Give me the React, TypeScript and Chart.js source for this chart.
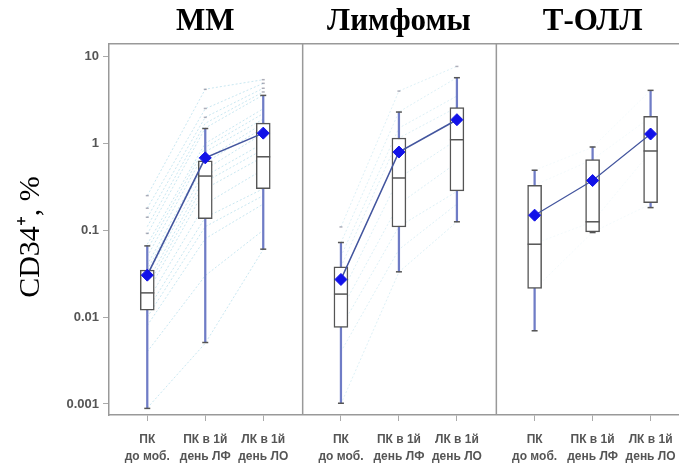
import React, { useEffect, useRef } from "react";
import { Chart, registerables } from "chart.js";

Chart.register(...registerables);

// ---------- text ----------
const CATEGORY_LABELS = [
  ["ПК", "до моб."],
  ["ПК в 1й", "день ЛФ"],
  ["ЛК в 1й", "день ЛО"],
];
const PANEL_TITLES = ["ММ", "Лимфомы", "Т-ОЛЛ"];
const Y_TICKS = [0.001, 0.01, 0.1, 1, 10];
const Y_TICK_LABELS = ["0.001", "0.01", "0.1", "1", "10"];
const Y_TITLE = "CD34⁺, %";

// ---------- ММ ----------
const mmMin = [0.00089, 0.0051, 0.0605];
const mmQ1 = [0.012, 0.136, 0.3];
const mmMed = [0.019, 0.42, 0.7];
const mmQ3 = [0.0347, 0.63, 1.71];
const mmMax = [0.066, 1.48, 3.56];
const mmMean = [0.0304, 0.68, 1.31];
const mmOutliers = [
  [0.092, 0.141, 0.179, 0.25],
  [1.99, 2.52, 4.18],
  [3.9, 4.3, 4.9, 5.4],
];
const mmPatients = [
  [0.25, 4.2, 5.4],
  [0.18, 2.5, 4.9],
  [0.14, 2.0, 4.3],
  [0.11, 1.7, 3.9],
  [0.09, 1.5, 3.6],
  [0.069, 1.0, 2.5],
  [0.06, 0.9, 2.2],
  [0.05, 0.8, 1.9],
  [0.04, 0.65, 1.7],
  [0.035, 0.6, 1.5],
  [0.03, 0.5, 1.3],
  [0.025, 0.42, 1.0],
  [0.022, 0.36, 0.85],
  [0.019, 0.3, 0.7],
  [0.015, 0.2, 0.5],
  [0.012, 0.14, 0.3],
  [0.01, 0.11, 0.25],
  [0.008, 0.08, 0.2],
  [0.004, 0.03, 0.1],
  [0.0009, 0.005, 0.06],
];

// ---------- Лимфомы ----------
const lyMin = [0.00102, 0.0332, 0.125];
const lyQ1 = [0.0076, 0.109, 0.283];
const lyMed = [0.0184, 0.399, 1.1];
const lyQ3 = [0.0379, 1.15, 2.57];
const lyMax = [0.0722, 2.29, 5.69];
const lyMean = [0.0271, 0.794, 1.87];
const lyOutliers = [[0.109], [3.99], [7.67]];
const lyPatients = [
  [0.109, 4.0, 7.7],
  [0.072, 2.3, 5.7],
  [0.05, 1.5, 3.5],
  [0.038, 1.15, 2.6],
  [0.027, 0.8, 1.9],
  [0.018, 0.4, 1.1],
  [0.012, 0.2, 0.6],
  [0.0076, 0.11, 0.28],
  [0.004, 0.06, 0.2],
  [0.001, 0.033, 0.125],
];

// ---------- Т-ОЛЛ ----------
const tMin = [0.00696, 0.094, 0.182];
const tQ1 = [0.0214, 0.0956, 0.208];
const tMed = [0.069, 0.125, 0.816];
const tQ3 = [0.329, 0.65, 2.04];
const tMax = [0.49, 0.907, 4.07];
const tMean = [0.149, 0.373, 1.28];
const tOutliers = [[], [], []];
const tPatients = [
  [0.49, 0.9, 4.07],
  [0.33, 0.65, 2.0],
  [0.07, 0.125, 0.8],
  [0.021, 0.095, 0.2],
];

const PANELS = [
  { min: mmMin, q1: mmQ1, med: mmMed, q3: mmQ3, max: mmMax, mean: mmMean, out: mmOutliers, pts: mmPatients, ptsAlpha: 0.35 },
  { min: lyMin, q1: lyQ1, med: lyMed, q3: lyQ3, max: lyMax, mean: lyMean, out: lyOutliers, pts: lyPatients, ptsAlpha: 0.22 },
  { min: tMin, q1: tQ1, med: tMed, q3: tQ3, max: tMax, mean: tMean, out: tOutliers, pts: tPatients, ptsAlpha: 0.08 },
];

const W = 679;
const H = 465;
const PANEL_W = 3.34;
const X_MIN = -0.66;
const X_MAX = 9.17;
const Y_MIN = 0.000747;
const Y_MAX = 13.9;
const xOf = (p: number, j: number) => p * PANEL_W + j;
const DIVIDERS = [xOf(1, 0) - 0.66, xOf(2, 0) - 0.66];

const BOX_COLOR = "#555555";
const WHISKER_COLOR = "#6f7cc6";

function buildDatasets() {
  const ds: any[] = [];
  PANELS.forEach((pn, p) => {
    pn.pts.forEach((row) => {
      ds.push({
        type: "line",
        data: row.map((v, j) => ({ x: xOf(p, j), y: v })),
        borderColor: `rgba(100,185,215,${pn.ptsAlpha})`,
        borderWidth: 1,
        borderDash: [2, 2],
        pointRadius: 0,
        order: 20,
      });
    });
  });
  DIVIDERS.forEach((d) => {
    ds.push({
      type: "line",
      data: [{ x: d, y: Y_MIN }, { x: d, y: Y_MAX }],
      borderColor: "#999999",
      borderWidth: 1.5,
      pointRadius: 0,
      order: 15,
    });
  });
  PANELS.forEach((pn, p) => {
    ds.push({
      type: "bar",
      data: pn.min.map((v, j) => ({ x: xOf(p, j), y: [v, pn.max[j]] })),
      backgroundColor: WHISKER_COLOR,
      borderWidth: 0,
      barThickness: 1.6,
      grouped: false,
      order: 10,
    });
    ds.push({
      type: "bar",
      data: pn.q1.map((v, j) => ({ x: xOf(p, j), y: [v, pn.q3[j]] })),
      backgroundColor: "#ffffff",
      borderColor: BOX_COLOR,
      borderWidth: 1.5,
      borderSkipped: false,
      barThickness: 14,
      grouped: false,
      order: 8,
    });
    ds.push({
      type: "scatter",
      data: pn.med.map((v, j) => ({ x: xOf(p, j), y: v })),
      pointStyle: "line",
      pointRadius: 7,
      borderColor: BOX_COLOR,
      borderWidth: 1.5,
      order: 7,
    });
    ds.push({
      type: "scatter",
      data: [
        ...pn.min.map((v, j) => ({ x: xOf(p, j), y: v })),
        ...pn.max.map((v, j) => ({ x: xOf(p, j), y: v })),
      ],
      pointStyle: "line",
      pointRadius: 3,
      borderColor: BOX_COLOR,
      borderWidth: 1.5,
      order: 7,
    });
    const outs: any[] = [];
    pn.out.forEach((arr, j) => arr.forEach((v) => outs.push({ x: xOf(p, j), y: v })));
    ds.push({
      type: "scatter",
      data: outs,
      pointStyle: "line",
      pointRadius: 1.5,
      borderColor: "rgba(110,110,130,0.55)",
      borderWidth: 1.5,
      order: 7,
    });
    ds.push({
      type: "line",
      data: pn.mean.map((v, j) => ({ x: xOf(p, j), y: v })),
      borderColor: "#43559e",
      borderWidth: p === 2 ? 1.2 : 1.6,
      pointStyle: "rectRot",
      pointRadius: 6,
      pointBackgroundColor: "#1212e8",
      pointBorderColor: "#1212e8",
      pointBorderWidth: 1,
      order: 1,
    });
  });
  return ds;
}

const TICK_POSITIONS = [0, 1, 2].flatMap((p) => [0, 1, 2].map((j) => xOf(p, j)));

export default function App() {
  const ref = useRef<HTMLCanvasElement | null>(null);
  useEffect(() => {
    if (!ref.current) return;
    const chart = new Chart(ref.current, {
      type: "scatter",
      data: { datasets: buildDatasets() },
      options: {
        animation: false,
        responsive: false,
        maintainAspectRatio: false,
        devicePixelRatio: 1,
        layout: { padding: 0, autoPadding: false },
        plugins: { legend: { display: false }, tooltip: { enabled: false } },
        scales: {
          x: {
            type: "linear",
            position: "bottom",
            min: X_MIN,
            max: X_MAX,
            offset: false,
            afterBuildTicks: (s: any) => {
              s.ticks = TICK_POSITIONS.map((v) => ({ value: v }));
            },
            ticks: {
              autoSkip: false,
              maxRotation: 0,
              callback: (_v: any, i: number) => CATEGORY_LABELS[i % 3],
              font: { family: "Liberation Sans", size: 12, weight: "bold", lineHeight: 1.42 },
              color: "#555555",
              padding: 10,
            },
            grid: { drawOnChartArea: false, drawTicks: true, tickLength: 6, color: "#aaaaaa", offset: false },
            border: { display: true, color: "#999999", width: 1.5 },
            afterFit: (s: any) => {
              s.height = 50;
              s.paddingLeft = 0;
              s.paddingRight = 0;
            },
          },
          xTop: {
            type: "linear",
            position: "top",
            min: X_MIN,
            max: X_MAX,
            offset: false,
            afterBuildTicks: (s: any) => {
              s.ticks = [0, 1, 2].map((p) => ({ value: xOf(p, 1) }));
            },
            ticks: {
              autoSkip: false,
              maxRotation: 0,
              callback: (_v: any, i: number) => PANEL_TITLES[i],
              font: { family: "Liberation Serif", size: 31, weight: "bold" },
              color: "#000000",
              padding: 3,
            },
            grid: { display: false, drawTicks: false },
            border: { display: true, color: "#999999", width: 1.5 },
            afterFit: (s: any) => {
              s.height = 44;
              s.paddingLeft = 0;
              s.paddingRight = 0;
            },
          },
          y: {
            type: "logarithmic",
            position: "left",
            min: Y_MIN,
            max: Y_MAX,
            afterBuildTicks: (s: any) => {
              s.ticks = Y_TICKS.map((v) => ({ value: v }));
            },
            ticks: {
              autoSkip: false,
              callback: (_v: any, i: number) => Y_TICK_LABELS[i],
              font: { family: "Liberation Sans", size: 13, weight: "bold" },
              color: "#555555",
              padding: 4,
            },
            grid: { drawOnChartArea: false, drawTicks: true, tickLength: 6, color: "#aaaaaa" },
            border: { display: true, color: "#999999", width: 1.5 },
            title: {
              display: true,
              text: Y_TITLE + "  ",
              font: { family: "Liberation Serif", size: 30 },
              color: "#000000",
              padding: { top: 13, bottom: 0 },
            },
            afterFit: (s: any) => {
              s.width = 109;
              s.paddingTop = 0;
              s.paddingBottom = 0;
            },
          },
        },
      } as any,
    });
    return () => chart.destroy();
  }, []);
  return (
    <div style={{ position: "absolute", left: 0, top: 0, width: W, height: H, background: "#ffffff", overflow: "hidden" }}>
      <canvas ref={ref} width={W} height={H} style={{ display: "block", width: W, height: H }} />
    </div>
  );
}
